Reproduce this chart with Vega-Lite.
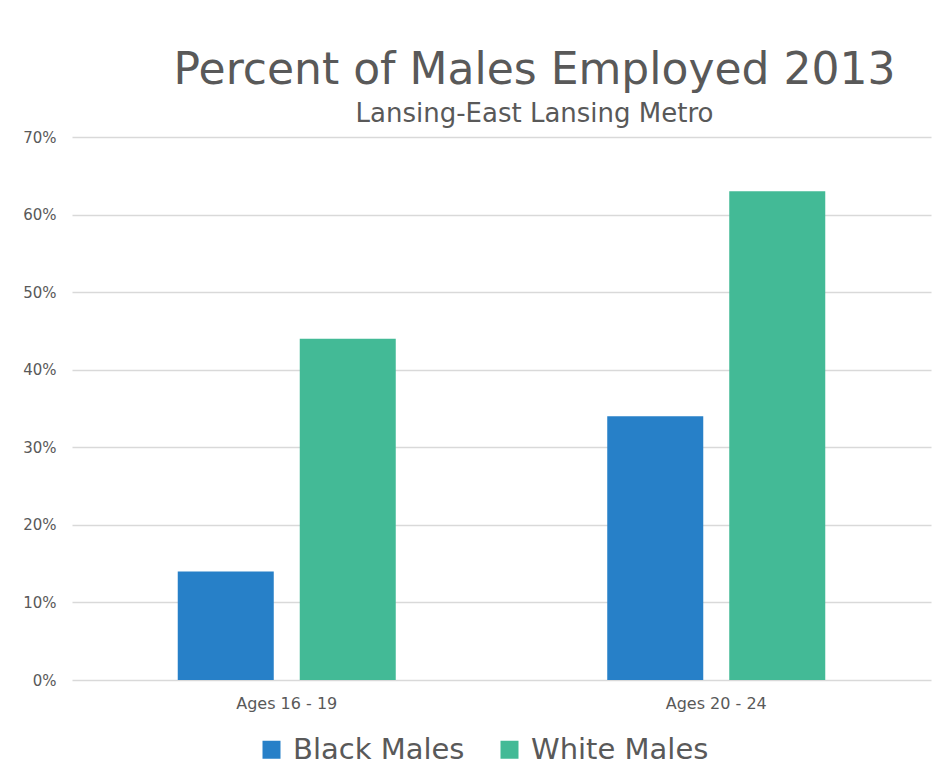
{
  "$schema": "https://vega.github.io/schema/vega-lite/v6.json",
  "autosize": {"type": "none"},
  "width": 859,
  "height": 543,
  "padding": {"left": 72, "top": 137, "right": 11, "bottom": 101},
  "background": "white",
  "title": {
    "text": "Percent of Males Employed 2013",
    "subtitle": "Lansing-East Lansing Metro",
    "anchor": "middle",
    "frame": "group",
    "dx": 33,
    "offset": 3,
    "font": "DejaVu Sans",
    "fontSize": 44,
    "fontWeight": "normal",
    "color": "#595959",
    "subtitleFont": "DejaVu Sans",
    "subtitleFontSize": 26,
    "subtitleColor": "#595959",
    "subtitlePadding": 8
  },
  "data": {
    "values": [
      {"age": "Ages 16 - 19", "group": "Black Males", "pct": 0.14},
      {"age": "Ages 16 - 19", "group": "White Males", "pct": 0.44},
      {"age": "Ages 20 - 24", "group": "Black Males", "pct": 0.34},
      {"age": "Ages 20 - 24", "group": "White Males", "pct": 0.63}
    ]
  },
  "mark": {"type": "bar"},
  "encoding": {
    "x": {
      "field": "age",
      "type": "nominal",
      "sort": null,
      "scale": {"paddingInner": 0.4924, "paddingOuter": 0.2462},
      "axis": {
        "title": null,
        "labelAngle": 0,
        "labelFont": "DejaVu Sans",
        "labelFontSize": 16,
        "labelColor": "#595959",
        "labelPadding": 15,
        "domain": false,
        "ticks": false,
        "grid": false
      }
    },
    "xOffset": {
      "field": "group",
      "type": "nominal",
      "scale": {"paddingInner": 0.213, "paddingOuter": 0}
    },
    "y": {
      "field": "pct",
      "type": "quantitative",
      "scale": {"domain": [0, 0.7], "nice": false},
      "axis": {
        "title": null,
        "values": [0, 0.1, 0.2, 0.3, 0.4, 0.5, 0.6, 0.7],
        "format": ".0%",
        "labelFont": "DejaVu Sans",
        "labelFontSize": 15,
        "labelColor": "#595959",
        "labelPadding": 16,
        "domain": false,
        "ticks": false,
        "grid": true,
        "gridColor": "#d9d9d9",
        "gridWidth": 1.5
      }
    },
    "color": {
      "field": "group",
      "type": "nominal",
      "scale": {"domain": ["Black Males", "White Males"], "range": ["#2780C8", "#43BA96"]},
      "legend": {
        "title": null,
        "orient": "none",
        "direction": "horizontal",
        "legendX": 185,
        "legendY": 598,
        "symbolType": "square",
        "symbolSize": 324,
        "symbolStrokeWidth": 0,
        "labelFont": "DejaVu Sans",
        "labelFontSize": 29,
        "labelLimit": 0,
        "labelColor": "#595959",
        "labelOffset": 7,
        "columnPadding": 30
      }
    }
  },
  "config": {
    "view": {"stroke": null}
  }
}
